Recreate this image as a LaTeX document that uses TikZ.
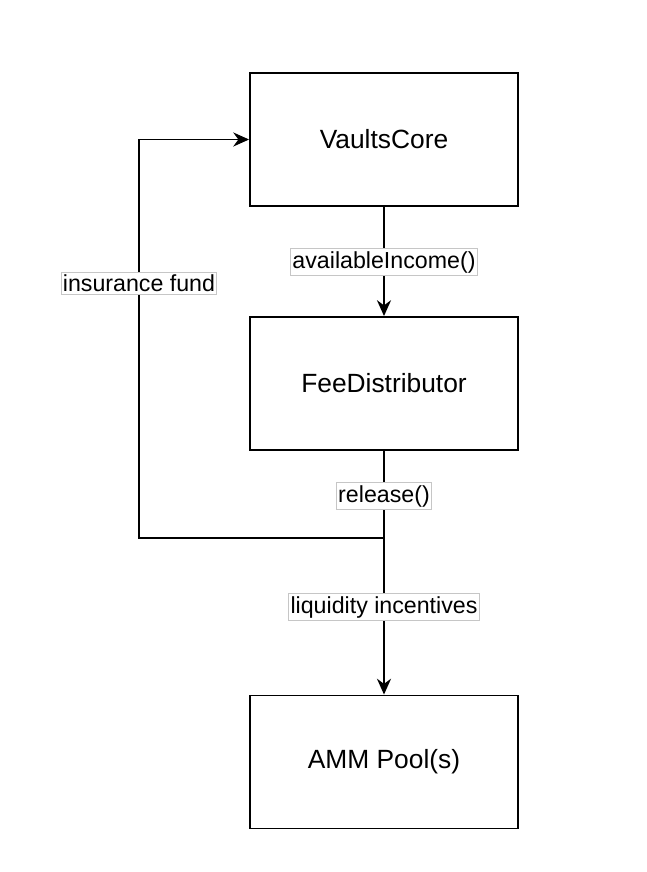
\documentclass[tikz,border=0pt]{standalone}
\usepackage{fontspec}
\setmainfont{Liberation Sans}
\usetikzlibrary{arrows.meta}

\begin{document}
\begin{tikzpicture}[x=0.02cm, y=-0.02cm,
    block/.style={draw, line width=1.1pt, minimum width=5.36cm, minimum height=2.66cm, font=\fontsize{15}{17}\selectfont},
    flowlabel/.style={draw=gray!45, line width=0.4pt, fill=white, inner xsep=1pt, inner ysep=1.5pt, font=\fontsize{13.2}{15}\selectfont},
    flow/.style={line width=1.1pt, -{Stealth[length=9pt, width=8pt]}}]
    % canvas
    \useasboundingbox (0,0) rectangle (646,872);

    % Blocks
    \node[block] (vaults) at (384,139.5) {VaultsCore};
    \node[block] (fee) at (384,383.5) {FeeDistributor};
    \node[block] (amm) at (384,762) {AMM Pool(s)};

    % Split point below the distributor
    \coordinate (split) at (384,538);
    \coordinate (back) at (139,538);

    % Connectors
    \draw[flow] (vaults) -- (fee);
    \draw[line width=1.1pt] (fee) -- (split);
    \draw[flow] (split) -- (amm);
    \draw[flow] (split) -- (back) |- (vaults);

    % Labels on the connectors
    \node[flowlabel] (income) at (384,262) {availableIncome()};
    \node[flowlabel] (release) at (384,496) {release()};
    \node[flowlabel] (liquidity) at (384,607) {liquidity incentives};
    \node[flowlabel] (insurance) at (139,283) {insurance fund};
\end{tikzpicture}
\end{document}
